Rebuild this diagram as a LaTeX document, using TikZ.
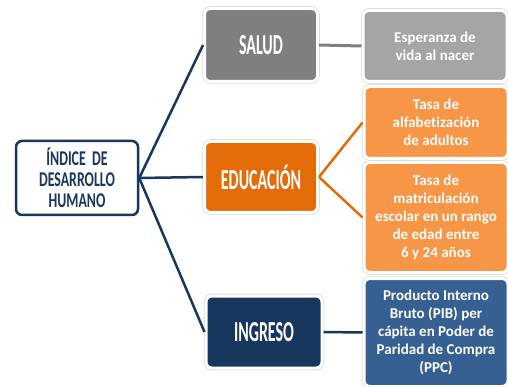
\documentclass[tikz,border=0pt]{standalone}
\usepackage{fontspec}
\setmainfont[Ligatures=NoCommon]{Carlito}
\newfontfamily\condfont[FakeStretch=0.55]{Carlito}
\newfontfamily\rootfont[FakeStretch=0.66]{Carlito}
\usetikzlibrary{positioning}
\usepackage{xcolor}
\definecolor{navy}{HTML}{17375E}
\definecolor{steel}{HTML}{376092}
\definecolor{darkorange}{HTML}{E36C09}
\definecolor{lightorange}{HTML}{F79646}
\definecolor{darkgray}{HTML}{7F7F7F}
\definecolor{lightgray}{HTML}{A5A5A5}

\begin{document}
\begin{tikzpicture}[
    x=1pt, y=-1pt,
    every node/.style={inner sep=0pt, align=center},
    rootbox/.style={rectangle, draw=navy, line width=2.5pt, fill=white, rounded corners=6pt, text=navy,
        font=\rootfont\bfseries\fontsize{21}{21}\selectfont},
    catbox/.style={rectangle, draw=white, line width=3pt, rounded corners=6pt, text=white,
        preaction={draw=black!15, line width=4.5pt},
        font=\condfont\bfseries\fontsize{29}{29}\selectfont},
    itembox/.style={rectangle, draw=white, line width=3pt, rounded corners=6pt, text=white,
        preaction={draw=black!15, line width=4.5pt},
        font=\bfseries\fontsize{15}{18}\selectfont},
    link/.style={line width=2.5pt}
]
\useasboundingbox (0,0) rectangle (508,387);

% Level 1 - Root
\node[rootbox, minimum width=122pt, minimum height=74pt] (idh) at (77,178) {ÍNDICE~~DE\\DESARROLLO\\HUMANO};

% Level 2 - Dimensions
\node[catbox, fill=darkgray, minimum width=113pt, minimum height=73pt] (salud) at (261,45) {SALUD};
\node[catbox, fill=darkorange, minimum width=113pt, minimum height=71pt] (educ) at (261,177) {EDUCACIÓN};
\node[catbox, fill=navy, minimum width=116pt, minimum height=72pt] (ingreso) at (264,332) {INGRESO};

% Level 3 - Indicators
\node[itembox, fill=lightgray, minimum width=144pt, minimum height=71pt] (vida) at (435,46) {Esperanza de\\vida al nacer};
\node[itembox, fill=lightorange, minimum width=144pt, minimum height=72pt] (alfab) at (436,122.5) {Tasa de\\alfabetización\\de adultos};
\node[itembox, fill=lightorange, minimum width=144pt, minimum height=110pt] (matric) at (436,217.5) {Tasa de\\matriculación\\escolar en un rango\\de edad entre\\6 y 24 años};
\node[itembox, fill=steel, minimum width=144pt, minimum height=108pt] (pib) at (436,332.5) {Producto Interno\\Bruto (PIB) per\\cápita en Poder de\\Paridad de Compra\\(PPC)};

% Links from root
\draw[link, navy] (idh.east) -- (salud.west);
\draw[link, navy] (idh.east) -- (educ.west);
\draw[link, navy] (idh.east) -- (ingreso.west);

% Links to indicators
\draw[link, darkgray, line width=3pt] (salud.east) -- (vida.west);
\draw[link, darkorange] (educ.east) -- (alfab.west);
\draw[link, darkorange] (educ.east) -- (matric.west);
\draw[link, navy] (ingreso.east) -- (pib.west);

\end{tikzpicture}
\end{document}
